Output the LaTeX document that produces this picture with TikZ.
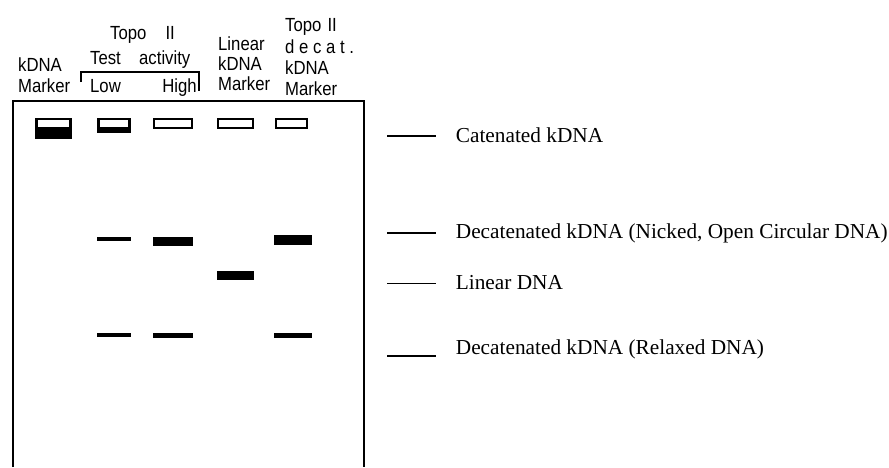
\documentclass[tikz,border=0pt]{standalone}
\usepackage{fontspec}
\setmainfont{Liberation Serif}
\newfontfamily\hdrfont[FakeStretch=0.88]{Liberation Sans}
\begin{document}
\begin{tikzpicture}[x=1pt,y=-1pt,
  hdr/.style={font=\hdrfont\fontsize{19}{20}\selectfont, inner sep=0pt, anchor=base west},
  lbl/.style={font=\fontsize{21.3}{22}\selectfont, inner sep=0pt, anchor=base west},
  legline/.style={line width=1.8pt},
  band/.style={fill=black},
  wellbox/.style={draw=black, line width=2pt, fill=white},
  gel/.style={line width=2pt, line join=miter}]
\useasboundingbox (0,0) rectangle (889,467);

% gel outline
\draw[gel] (13,467) -- (13,101) -- (364,101) -- (364,467);

% wells
\fill (35,117.5) rectangle (72,139);
\fill[white] (37.7,120) rectangle (69.3,127.3);
\fill (97.3,117.5) rectangle (130.7,133.3);
\fill[white] (100,120) rectangle (128.3,127.3);
\draw[wellbox] (154,118.5) rectangle (192,128.3);
\draw[wellbox] (218.3,118.5) rectangle (253,128.3);
\draw[wellbox] (275.5,118.5) rectangle (307,128.3);

% bands
\fill[band] (97,237.3) rectangle (131,241);
\fill[band] (153,237.3) rectangle (193,246.3);
\fill[band] (274,235.3) rectangle (312,245);
\fill[band] (217,270.7) rectangle (254,280);
\fill[band] (97,333.3) rectangle (131,336.7);
\fill[band] (153,333.3) rectangle (193,337.7);
\fill[band] (274,333.3) rectangle (312,337.7);

% header
\node[hdr] (k1) at (18,71) {kDNA};
\node[hdr] (m1) at (18,92) {Marker};
\node[hdr] (t1a) at (110,39) {Topo};
\node[hdr, anchor=base east] (t1b) at (175,39) {II};
\node[hdr] (ta) at (90,64) {Test};
\node[hdr] (tb) at (139,64) {activity};
\node[hdr] (lo) at (90,92) {Low};
\node[hdr, anchor=base east] (hi) at (197,92) {High};
\draw[line width=2pt] (81,82) -- (81,71.7) -- (199.3,71.7) -- (199.3,90.7);
\node[hdr] (li) at (218,50) {Linear};
\node[hdr] (k2) at (218,70) {kDNA};
\node[hdr] (m2) at (218,90.5) {Marker};
\node[hdr] (t2a) at (285,31.7) {Topo};
\node[hdr, anchor=base east] (t2b) at (337,31.7) {II};
\node[hdr] (dc) at (285,53) {d e c a t .};
\node[hdr] (k3) at (285,74) {kDNA};
\node[hdr] (m3) at (285,95) {Marker};

% legend
\coordinate (a1) at (387,135.7); \coordinate (b1) at (436,135.7);
\coordinate (a2) at (387,232.7); \coordinate (b2) at (436,232.7);
\coordinate (a3) at (387,283.5); \coordinate (b3) at (436,283.5);
\coordinate (a4) at (387,356);   \coordinate (b4) at (436,356);
\draw[legline] (a1) -- (b1);
\draw[legline] (a2) -- (b2);
\draw[legline] (a3) -- (b3);
\draw[legline] (a4) -- (b4);
\node[lbl] (l1) at (455.7,142.7) {Catenated kDNA};
\node[lbl] (l2) at (455.7,238.3) {Decatenated kDNA (Nicked, Open Circular DNA)};
\node[lbl] (l3) at (455.7,289) {Linear DNA};
\node[lbl] (l4) at (455.7,354.3) {Decatenated kDNA (Relaxed DNA)};
\end{tikzpicture}
\end{document}
